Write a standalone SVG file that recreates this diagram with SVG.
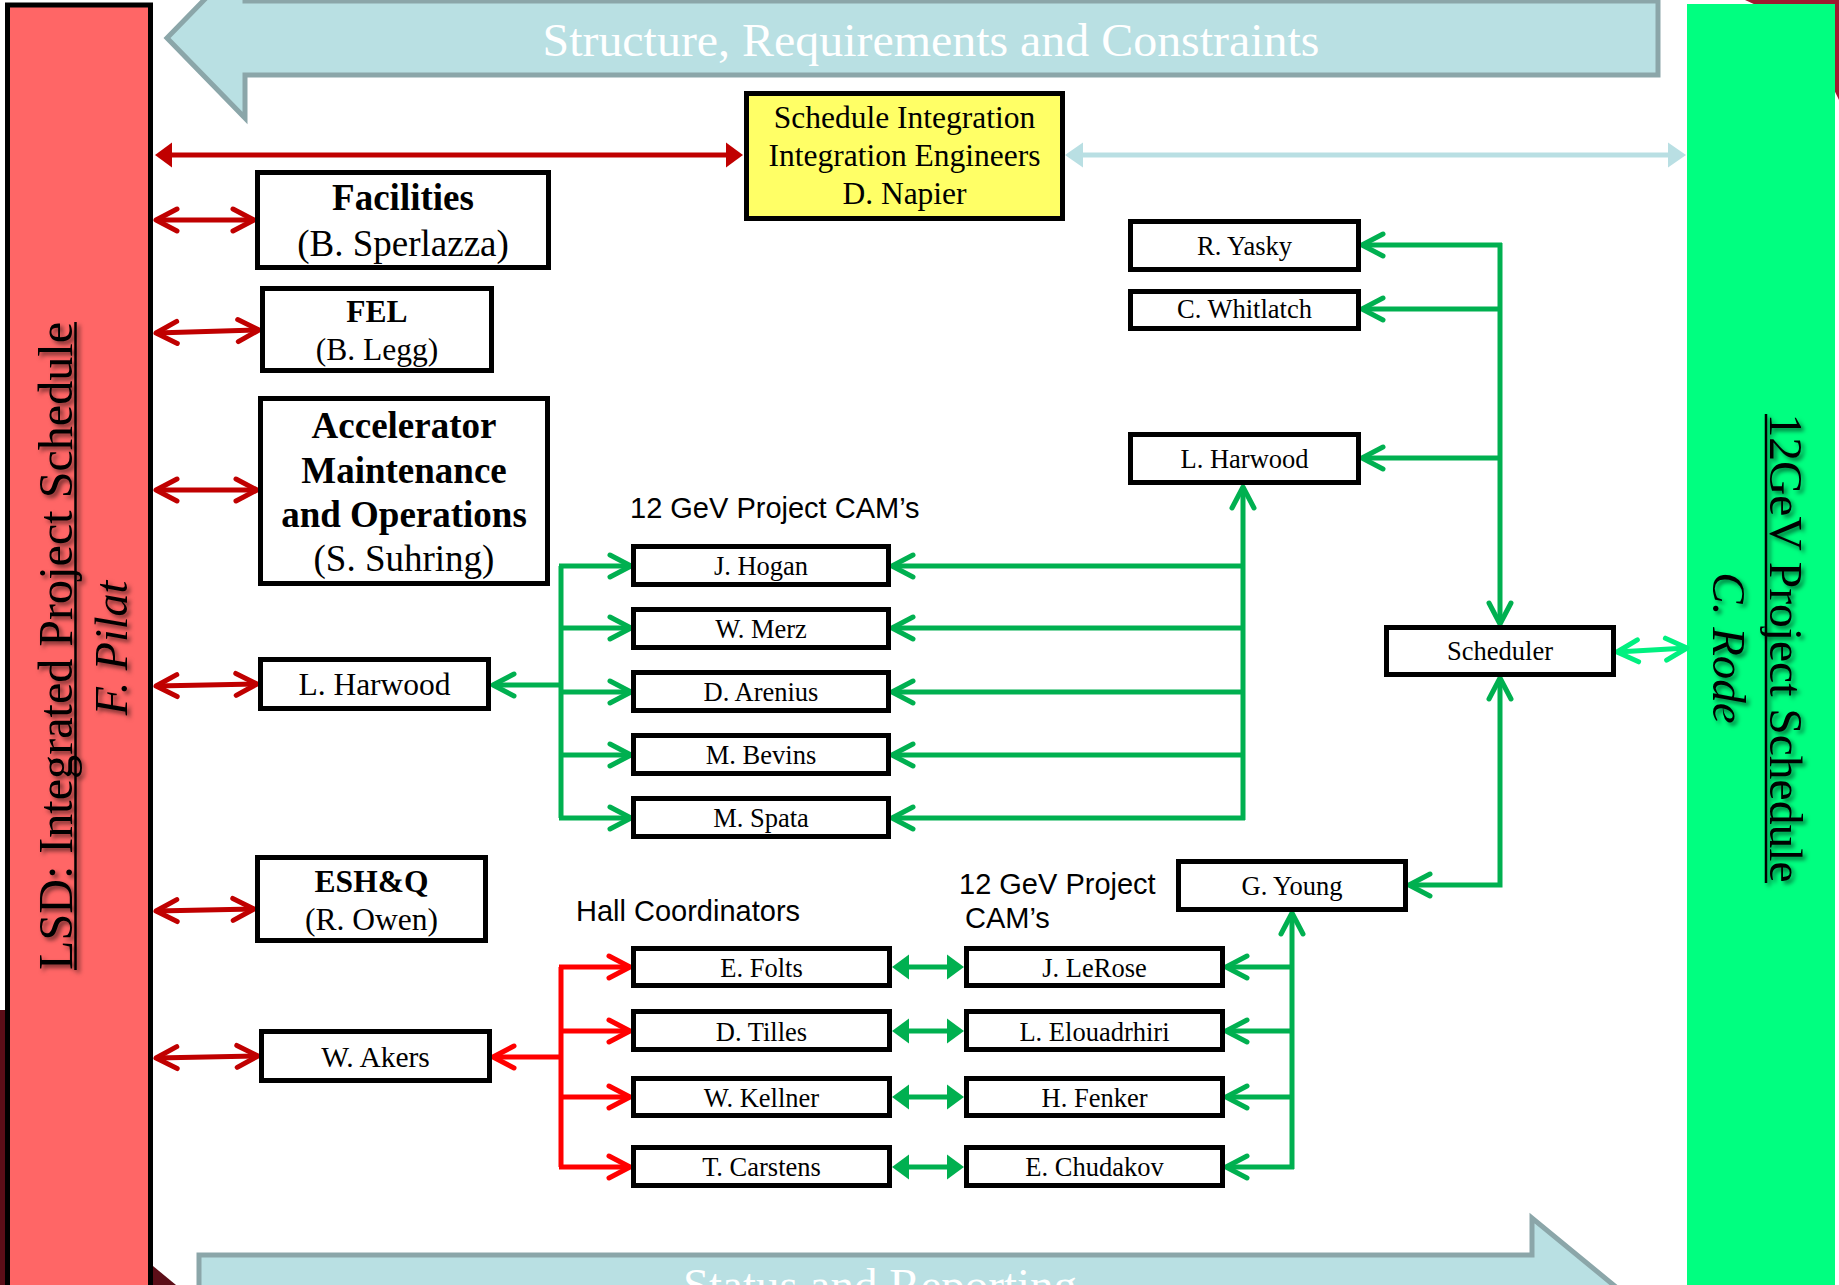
<svg xmlns="http://www.w3.org/2000/svg" width="1839" height="1285" viewBox="0 0 1839 1285">
<style>
.box{fill:#fff;stroke:#000;stroke-width:5}
.ybox{fill:#FFFF66;stroke:#000;stroke-width:5}
.t{font-family:"Liberation Serif","Times New Roman",serif;fill:#000;text-anchor:middle}
.b{font-weight:bold}
.a{font-family:"Liberation Sans",Arial,sans-serif;fill:#000;font-size:29px}
.s26{font-size:26.5px}
.s31{font-size:31.5px}
.s37{font-size:37px}
.dr{fill:none;stroke:#C00000;stroke-width:5}
.g{fill:none;stroke:#00B050;stroke-width:5}
.r{fill:none;stroke:#FF0000;stroke-width:5}
.bg{fill:none;stroke:#00F080;stroke-width:5}
.lb{fill:none;stroke:#B9DFE3;stroke-width:5}
.band{fill:#B9E0E3;stroke:#8BA6A9;stroke-width:5}
.bt{font-family:"Liberation Serif","Times New Roman",serif;fill:#fff;font-size:47px;text-anchor:middle}
.side{font-family:"Liberation Serif","Times New Roman",serif;fill:#000;text-anchor:middle}
</style>
<defs>
<filter id="sh" x="-10%" y="-10%" width="130%" height="130%">
<feDropShadow dx="3" dy="3" stdDeviation="2" flood-color="#000" flood-opacity="0.55"/>
</filter>
<marker id="cDR" viewBox="-26 -16 32 32" refX="0" refY="0" markerWidth="32" markerHeight="32" markerUnits="userSpaceOnUse" orient="auto-start-reverse"><path d="M-21,-11 L0,0 L-21,11" fill="none" stroke="#C00000" stroke-width="5" stroke-linecap="round" stroke-linejoin="round"/></marker>
<marker id="cG" viewBox="-26 -16 32 32" refX="0" refY="0" markerWidth="32" markerHeight="32" markerUnits="userSpaceOnUse" orient="auto-start-reverse"><path d="M-21,-11 L0,0 L-21,11" fill="none" stroke="#00B050" stroke-width="5" stroke-linecap="round" stroke-linejoin="round"/></marker>
<marker id="cR" viewBox="-26 -16 32 32" refX="0" refY="0" markerWidth="32" markerHeight="32" markerUnits="userSpaceOnUse" orient="auto-start-reverse"><path d="M-21,-11 L0,0 L-21,11" fill="none" stroke="#FF0000" stroke-width="5" stroke-linecap="round" stroke-linejoin="round"/></marker>
<marker id="cBG" viewBox="-26 -16 32 32" refX="0" refY="0" markerWidth="32" markerHeight="32" markerUnits="userSpaceOnUse" orient="auto-start-reverse"><path d="M-21,-11 L0,0 L-21,11" fill="none" stroke="#00F080" stroke-width="5" stroke-linecap="round" stroke-linejoin="round"/></marker>
<marker id="tDR" viewBox="-4 -14 22 28" refX="0" refY="0" markerWidth="22" markerHeight="28" markerUnits="userSpaceOnUse" orient="auto-start-reverse"><path d="M-2,-12.5 L15,0 L-2,12.5 Z" fill="#C00000"/></marker>
<marker id="tLB" viewBox="-4 -14 22 28" refX="0" refY="0" markerWidth="22" markerHeight="28" markerUnits="userSpaceOnUse" orient="auto-start-reverse"><path d="M-2,-12.5 L16,0 L-2,12.5 Z" fill="#B9DFE3"/></marker>
<marker id="tG" viewBox="-4 -14 22 28" refX="0" refY="0" markerWidth="22" markerHeight="28" markerUnits="userSpaceOnUse" orient="auto-start-reverse"><path d="M-2,-12.5 L15,0 L-2,12.5 Z" fill="#00B050"/></marker>
</defs>
<rect x="0" y="0" width="1839" height="1285" fill="#fff"/>

<!-- background ornaments -->
<path d="M1745,0 Q1805,25 1839,100 L1839,0 Z" fill="#9E1A30"/>
<path d="M0,1010 L6,1010 L6,1285 L0,1285 Z" fill="#5C0E18"/>
<path d="M153,1266 L176,1285 L153,1285 Z" fill="#5C0E18"/>

<!-- bands -->
<g id="band-top">
<path class="band" d="M167,38 L245,-42 L245,1 L1658,1 L1658,75 L245,75 L245,118 Z"/>
<text class="bt" x="931" y="56" textLength="777" lengthAdjust="spacingAndGlyphs">Structure, Requirements and Constraints</text>
</g>
<g id="band-bottom">
<path class="band" d="M199,1255 L1532,1255 L1532,1218 L1622,1292 L1532,1366 L1532,1329 L199,1329 Z"/>
<text class="bt" x="880" y="1301">Status and Reporting</text>
</g>

<!-- side bars -->
<g id="lsd">
<rect x="7.5" y="5" width="143" height="1300" fill="#FF6666" stroke="#000" stroke-width="5"/>
<g filter="url(#sh)">
<text class="side" font-size="48" textLength="648" lengthAdjust="spacingAndGlyphs" transform="translate(72,646) rotate(-90)">LSD: Integrated Project Schedule</text>
<line x1="75.5" y1="322" x2="75.5" y2="970" stroke="#000" stroke-width="2.5"/>
<text class="side" font-size="46" font-style="italic" transform="translate(127,648) rotate(-90)">F. Pilat</text>
</g>
</g>
<g id="project">
<rect x="1687" y="4" width="148" height="1300" fill="#00FF80"/>
<g filter="url(#sh)">
<text class="side" font-size="47" textLength="469" lengthAdjust="spacingAndGlyphs" transform="translate(1770,648) rotate(90)">12GeV Project Schedule</text>
<line x1="1766" y1="414" x2="1766" y2="883" stroke="#000" stroke-width="2.5"/>
<text class="side" font-size="47" font-style="italic" transform="translate(1713,648) rotate(90)">C. Rode</text>
</g>
</g>

<!-- connectors -->
<g id="connectors">
<path class="dr" d="M170,155 L728,155" marker-start="url(#tDR)" marker-end="url(#tDR)"/>
<path class="lb" d="M1081,155 L1670,155" marker-start="url(#tLB)" marker-end="url(#tLB)"/>
<path class="dr" d="M156,220 L254,220" marker-start="url(#cDR)" marker-end="url(#cDR)"/>
<path class="dr" d="M156,333 L259,330" marker-start="url(#cDR)" marker-end="url(#cDR)"/>
<path class="dr" d="M156,490 L257,490" marker-start="url(#cDR)" marker-end="url(#cDR)"/>
<path class="dr" d="M156,686 L257,684" marker-start="url(#cDR)" marker-end="url(#cDR)"/>
<path class="dr" d="M156,911 L254,909" marker-start="url(#cDR)" marker-end="url(#cDR)"/>
<path class="dr" d="M156,1058 L258,1056" marker-start="url(#cDR)" marker-end="url(#cDR)"/>

<!-- CAM left distribution -->
<path class="g" d="M561,685 L493,685" marker-end="url(#cG)"/>
<path class="g" d="M561,566 L561,818"/>
<path class="g" d="M559,566 L631,566" marker-end="url(#cG)"/>
<path class="g" d="M561,628 L631,628" marker-end="url(#cG)"/>
<path class="g" d="M561,692 L631,692" marker-end="url(#cG)"/>
<path class="g" d="M561,755 L631,755" marker-end="url(#cG)"/>
<path class="g" d="M559,818 L631,818" marker-end="url(#cG)"/>

<!-- CAM right to L. Harwood -->
<path class="g" d="M1243,820 L1243,487" marker-end="url(#cG)"/>
<path class="g" d="M1245,566 L892,566" marker-end="url(#cG)"/>
<path class="g" d="M1243,628 L892,628" marker-end="url(#cG)"/>
<path class="g" d="M1243,692 L892,692" marker-end="url(#cG)"/>
<path class="g" d="M1243,755 L892,755" marker-end="url(#cG)"/>
<path class="g" d="M1245,818 L892,818" marker-end="url(#cG)"/>

<!-- scheduler tree -->
<path class="g" d="M1500,243 L1500,624" marker-end="url(#cG)"/>
<path class="g" d="M1502,245 L1362,245" marker-end="url(#cG)"/>
<path class="g" d="M1500,309 L1362,309" marker-end="url(#cG)"/>
<path class="g" d="M1500,458 L1362,458" marker-end="url(#cG)"/>
<path class="g" d="M1500,678 L1500,885 L1409,885" marker-start="url(#cG)" marker-end="url(#cG)"/>
<path class="bg" d="M1617,652 L1687,648" marker-start="url(#cBG)" marker-end="url(#cBG)"/>

<!-- G. Young tree -->
<path class="g" d="M1292,1169 L1292,913" marker-end="url(#cG)"/>
<path class="g" d="M1292,967 L1226,967" marker-end="url(#cG)"/>
<path class="g" d="M1292,1031 L1226,1031" marker-end="url(#cG)"/>
<path class="g" d="M1292,1097 L1226,1097" marker-end="url(#cG)"/>
<path class="g" d="M1294,1167 L1226,1167" marker-end="url(#cG)"/>

<!-- hall coordinator pairs -->
<path class="g" d="M907,967 L949,967" marker-start="url(#tG)" marker-end="url(#tG)"/>
<path class="g" d="M907,1031 L949,1031" marker-start="url(#tG)" marker-end="url(#tG)"/>
<path class="g" d="M907,1097 L949,1097" marker-start="url(#tG)" marker-end="url(#tG)"/>
<path class="g" d="M907,1167 L949,1167" marker-start="url(#tG)" marker-end="url(#tG)"/>

<!-- W. Akers distribution -->
<path class="r" d="M561,1057 L493,1057" marker-end="url(#cR)"/>
<path class="r" d="M561,967 L561,1167"/>
<path class="r" d="M559,967 L630,967" marker-end="url(#cR)"/>
<path class="r" d="M561,1031 L630,1031" marker-end="url(#cR)"/>
<path class="r" d="M561,1097 L630,1097" marker-end="url(#cR)"/>
<path class="r" d="M559,1167 L630,1167" marker-end="url(#cR)"/>
</g>

<!-- nodes -->
<g id="schedule-integration">
<rect class="ybox" x="746.5" y="93.5" width="316" height="125"/>
<text class="t" font-size="31.5" x="904.5" y="128">Schedule Integration</text>
<text class="t" font-size="31.5" x="904.5" y="166">Integration Engineers</text>
<text class="t" font-size="31.5" x="904.5" y="204">D. Napier</text>
</g>
<g id="facilities">
<rect class="box" x="257.5" y="172.5" width="291" height="95"/>
<text class="t s37 b" x="403" y="210">Facilities</text>
<text class="t s37" x="403" y="256">(B. Sperlazza)</text>
</g>
<g id="fel">
<rect class="box" x="262.5" y="288.5" width="229" height="82"/>
<text class="t s31 b" x="377" y="322">FEL</text>
<text class="t s31" x="377" y="360">(B. Legg)</text>
</g>
<g id="accelerator">
<rect class="box" x="260.5" y="398.5" width="287" height="185"/>
<text class="t s37 b" x="404" y="438">Accelerator</text>
<text class="t s37 b" x="404" y="483">Maintenance</text>
<text class="t s37 b" x="404" y="527">and Operations</text>
<text class="t s37" x="404" y="571">(S. Suhring)</text>
</g>
<g id="harwood-left">
<rect class="box" x="260.5" y="659.5" width="228" height="49"/>
<text class="t s31" x="374.5" y="695">L. Harwood</text>
</g>
<g id="esh">
<rect class="box" x="257.5" y="857.5" width="228" height="83"/>
<text class="t s31 b" x="371.5" y="892">ESH&amp;Q</text>
<text class="t s31" x="371.5" y="930">(R. Owen)</text>
</g>
<g id="akers">
<rect class="box" x="261.5" y="1031.5" width="228" height="49"/>
<text class="t" font-size="29.5" x="375.5" y="1067">W. Akers</text>
</g>

<g id="cam-labels">
<text class="a" x="630" y="518">12 GeV Project CAM’s</text>
<text class="a" x="576" y="921">Hall Coordinators</text>
<text class="a" x="959" y="894">12 GeV Project</text>
<text class="a" x="965" y="928">CAM’s</text>
</g>

<g id="hogan"><rect class="box" x="633.5" y="546.5" width="255" height="38"/><text class="t s26" x="761" y="575">J. Hogan</text></g>
<g id="merz"><rect class="box" x="633.5" y="609.5" width="255" height="38"/><text class="t s26" x="761" y="638">W. Merz</text></g>
<g id="arenius"><rect class="box" x="633.5" y="672.5" width="255" height="38"/><text class="t s26" x="761" y="701">D. Arenius</text></g>
<g id="bevins"><rect class="box" x="633.5" y="735.5" width="255" height="38"/><text class="t s26" x="761" y="764">M. Bevins</text></g>
<g id="spata"><rect class="box" x="633.5" y="798.5" width="255" height="38"/><text class="t s26" x="761" y="827">M. Spata</text></g>

<g id="yasky"><rect class="box" x="1130.5" y="221.5" width="228" height="48"/><text class="t s26" x="1244.5" y="255">R. Yasky</text></g>
<g id="whitlatch"><rect class="box" x="1130.5" y="291.5" width="228" height="37"/><text class="t s26" x="1244.5" y="318">C. Whitlatch</text></g>
<g id="harwood-right"><rect class="box" x="1130.5" y="434.5" width="228" height="48"/><text class="t s26" x="1244.5" y="468">L. Harwood</text></g>
<g id="scheduler"><rect class="box" x="1386.5" y="627.5" width="227" height="47"/><text class="t s26" x="1500" y="660">Scheduler</text></g>
<g id="young"><rect class="box" x="1178.5" y="861.5" width="227" height="48"/><text class="t s26" x="1292" y="895">G. Young</text></g>

<g id="folts"><rect class="box" x="633.5" y="948.5" width="256" height="37"/><text class="t s26" x="761.5" y="976.5">E. Folts</text></g>
<g id="tilles"><rect class="box" x="633.5" y="1011.5" width="256" height="38"/><text class="t s26" x="761.5" y="1040.5">D. Tilles</text></g>
<g id="kellner"><rect class="box" x="633.5" y="1078.5" width="256" height="37"/><text class="t s26" x="761.5" y="1106.5">W. Kellner</text></g>
<g id="carstens"><rect class="box" x="633.5" y="1147.5" width="256" height="38"/><text class="t s26" x="761.5" y="1176">T. Carstens</text></g>

<g id="lerose"><rect class="box" x="966.5" y="948.5" width="256" height="37"/><text class="t s26" x="1094.5" y="976.5">J. LeRose</text></g>
<g id="elouadrhiri"><rect class="box" x="966.5" y="1011.5" width="256" height="38"/><text class="t s26" x="1094.5" y="1040.5">L. Elouadrhiri</text></g>
<g id="fenker"><rect class="box" x="966.5" y="1078.5" width="256" height="37"/><text class="t s26" x="1094.5" y="1106.5">H. Fenker</text></g>
<g id="chudakov"><rect class="box" x="966.5" y="1147.5" width="256" height="38"/><text class="t s26" x="1094.5" y="1176">E. Chudakov</text></g>
</svg>
